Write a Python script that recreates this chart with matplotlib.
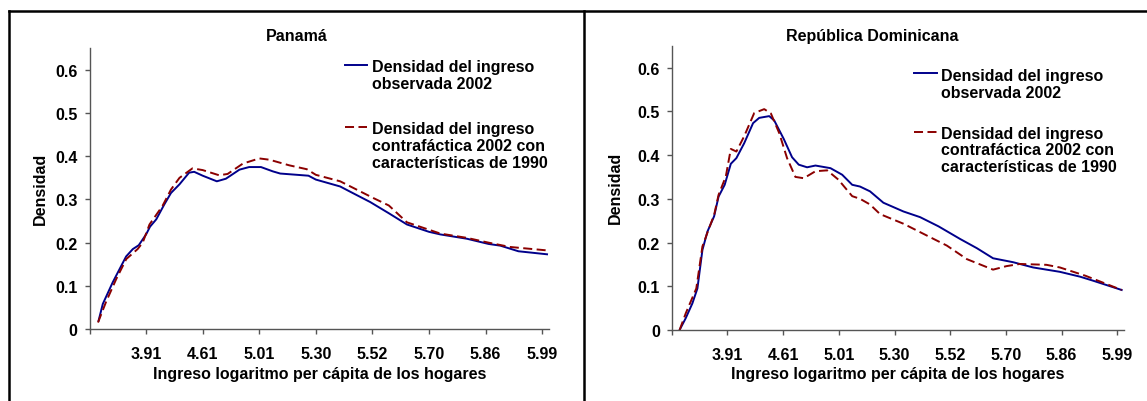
import matplotlib
matplotlib.use("Agg")
import matplotlib.pyplot as plt
from matplotlib.lines import Line2D
from matplotlib.ticker import FixedLocator, FixedFormatter

plt.rcParams['font.family'] = ['Liberation Sans', 'DejaVu Sans']
plt.rcParams['font.weight'] = 'bold'
plt.rcParams['lines.scale_dashes'] = False

# ---------------- data ----------------
x_tick_labels = ["", "3.91", "4.61", "5.01", "5.30", "5.52", "5.70", "5.86", "5.99"]
y_ticks = [0, 0.1, 0.2, 0.3, 0.4, 0.5, 0.6]
y_tick_labels = ["0", "0.1", "0.2", "0.3", "0.4", "0.5", "0.6"]

titles = ["Panamá", "República Dominicana"]
legend_obs = "Densidad del ingreso\nobservada 2002"
legend_cf = "Densidad del ingreso\ncontrafáctica 2002 con\ncaracterísticas de 1990"
xlabel = "Ingreso logaritmo per cápita de los hogares"
ylabel = "Densidad"

# Panamá - observed 2002 (position on category axis, density)
pan_obs_x = [0.16, 0.235, 0.41, 0.647, 0.765, 0.87, 1.0, 1.07, 1.18, 1.32, 1.44, 1.59,
             1.76, 1.85, 2.0, 2.25, 2.41, 2.65, 2.82, 3.03, 3.24, 3.37, 3.87, 4.0,
             4.43, 4.62, 4.96, 5.29, 5.61, 6.0, 6.2, 6.67, 7.05, 7.26, 7.58, 8.085]
pan_obs_y = [0.019, 0.058, 0.108, 0.168, 0.185, 0.194, 0.219, 0.237, 0.254, 0.288, 0.315, 0.335,
             0.362, 0.364, 0.355, 0.342, 0.348, 0.369, 0.375, 0.375, 0.365, 0.360, 0.355, 0.346,
             0.330, 0.317, 0.294, 0.268, 0.242, 0.225, 0.219, 0.209, 0.197, 0.193, 0.180, 0.173]

# Panamá - counterfactual
pan_cf_x = [0.15, 0.29, 0.47, 0.65, 0.85, 0.94, 1.06, 1.29, 1.44, 1.59, 1.82, 2.0,
            2.29, 2.44, 2.71, 3.0, 3.18, 3.53, 3.84, 4.0, 4.43, 5.02, 5.29, 5.61,
            6.2, 6.67, 7.05, 7.43, 8.085]
pan_cf_y = [0.015, 0.062, 0.115, 0.162, 0.185, 0.200, 0.242, 0.285, 0.323, 0.350, 0.372, 0.368,
            0.356, 0.359, 0.383, 0.395, 0.392, 0.379, 0.370, 0.357, 0.342, 0.303, 0.286, 0.247,
            0.221, 0.211, 0.200, 0.190, 0.182]

# República Dominicana - observed 2002
rd_obs_x = [0.14, 0.25, 0.37, 0.46, 0.55, 0.64, 0.76, 0.84, 0.95, 1.06, 1.16, 1.30,
            1.46, 1.57, 1.75, 1.84, 2.01, 2.16, 2.28, 2.43, 2.58, 2.85, 3.06, 3.24,
            3.38, 3.56, 3.80, 4.16, 4.46, 4.79, 5.18, 5.48, 5.77, 6.13, 6.49, 6.97,
            7.33, 7.56, 8.08]
rd_obs_y = [0.0, 0.027, 0.061, 0.095, 0.183, 0.225, 0.260, 0.305, 0.332, 0.380, 0.393, 0.427,
            0.473, 0.485, 0.489, 0.479, 0.437, 0.395, 0.378, 0.372, 0.376, 0.370, 0.355, 0.332,
            0.328, 0.317, 0.291, 0.271, 0.258, 0.237, 0.208, 0.187, 0.164, 0.155, 0.143, 0.133,
            0.122, 0.113, 0.0915]

# República Dominicana - counterfactual
rd_cf_x = [0.14, 0.25, 0.44, 0.55, 0.67, 0.76, 0.84, 0.97, 1.06, 1.16, 1.30, 1.48,
           1.66, 1.78, 1.93, 2.07, 2.22, 2.37, 2.58, 2.79, 2.99, 3.24, 3.38, 3.56,
           3.74, 4.16, 4.58, 4.94, 5.30, 5.77, 6.01, 6.25, 6.73, 6.97, 7.43, 8.08]
rd_cf_y = [0.0, 0.038, 0.095, 0.191, 0.233, 0.263, 0.309, 0.351, 0.414, 0.408, 0.443, 0.496,
           0.505, 0.495, 0.450, 0.393, 0.350, 0.347, 0.363, 0.365, 0.344, 0.306, 0.300, 0.287,
           0.265, 0.243, 0.216, 0.193, 0.162, 0.138, 0.146, 0.151, 0.149, 0.143, 0.124, 0.0915]

# ---------------- figure ----------------
W, H = 1147, 402
fig = plt.figure(figsize=(W / 100, H / 100), dpi=100)
fig.patch.set_facecolor('white')

BLUE = '#00008B'
RED = '#8B0000'
AXC = '#555555'
FS = 11.5
LS = 1.14


def px(x, y):
    return x / W, 1 - y / H


panels = [
    dict(rect=(89.5, 49.3, 549, 330), data=(pan_obs_x, pan_obs_y, pan_cf_x, pan_cf_y),
         title=(297, 36.7), ylab=(40.7, 189), xlab=(319.4, 375),
         leg_line=(344.8, 367.4), leg_text=371.8, leg1=(65.7, 76), leg2=(127.7, 146.5)),
    dict(rect=(671.8, 46.7, 1123.9, 331), data=(rd_obs_x, rd_obs_y, rd_cf_x, rd_cf_y),
         title=(872.4, 36.7), ylab=(615, 188), xlab=(897.9, 375),
         leg_line=(914, 936.5), leg_text=940.9, leg1=(74, 84.7), leg2=(132.7, 150.9)),
]

for i, p in enumerate(panels):
    x0, y0, x1, y1 = p['rect']
    ax = fig.add_axes([x0 / W, 1 - y1 / H, (x1 - x0) / W, (y1 - y0) / H])
    ox, oy, cx, cy = p['data']
    ax.plot(ox, oy, color=BLUE, lw=1.4, solid_joinstyle='round')
    ax.plot(cx, cy, color=RED, lw=1.4, dashes=(6.5, 3.2))
    ax.set_xlim(0, 8.12)
    ax.set_ylim(0, 0.65)
    for s in ('top', 'right'):
        ax.spines[s].set_visible(False)
    for s in ('left', 'bottom'):
        ax.spines[s].set_color(AXC)
        ax.spines[s].set_linewidth(1.0)
    ax.xaxis.set_major_locator(FixedLocator(list(range(len(x_tick_labels)))))
    ax.xaxis.set_major_formatter(FixedFormatter(x_tick_labels))
    ax.yaxis.set_major_locator(FixedLocator(y_ticks))
    ax.yaxis.set_major_formatter(FixedFormatter(y_tick_labels))
    ax.tick_params(axis='both', direction='out', length=3.5, width=1.0, color=AXC,
                   labelsize=FS, labelcolor='black')
    ax.tick_params(axis='x', pad=9)
    ax.tick_params(axis='y', pad=5)
    for lab in ax.get_xticklabels() + ax.get_yticklabels():
        lab.set_fontweight('bold')
    ax.patch.set_alpha(0)

    tx, ty = px(*p['title'])
    fig.text(tx, ty, titles[i], ha='center', va='center', fontsize=FS, fontweight='bold')
    lx, ly = px(*p['ylab'])
    fig.text(lx, ly, ylabel, ha='center', va='center', rotation=90, fontsize=FS, fontweight='bold')
    xx, xy = px(*p['xlab'])
    fig.text(xx, xy, xlabel, ha='center', va='center', fontsize=FS, fontweight='bold')

    # legend
    la, lb = p['leg_line']
    hy1, ty1 = p['leg1']
    hy2, ty2 = p['leg2']
    fig.add_artist(Line2D([la / W, lb / W], [1 - hy1 / H, 1 - hy1 / H], color=BLUE, lw=1.4))
    fig.add_artist(Line2D([la / W, lb / W], [1 - hy2 / H, 1 - hy2 / H], color=RED, lw=1.4,
                          dashes=(6.5, 3.2)))
    fig.text(p['leg_text'] / W, 1 - ty1 / H, legend_obs, ha='left', va='center',
             fontsize=FS, fontweight='bold', linespacing=LS)
    fig.text(p['leg_text'] / W, 1 - ty2 / H, legend_cf, ha='left', va='center',
             fontsize=FS, fontweight='bold', linespacing=LS)

# frame lines
lw_frame = 1.8
fig.add_artist(Line2D([8.5 / W, 1.0], [1 - 12 / H, 1 - 12 / H], color='black', lw=lw_frame))
fig.add_artist(Line2D([8.5 / W, 8.5 / W], [0, 1 - 12 / H], color='black', lw=lw_frame))
fig.add_artist(Line2D([584 / W, 584 / W], [0, 1 - 12 / H], color='black', lw=lw_frame))

fig.savefig('out.png', dpi=100, facecolor='white')
